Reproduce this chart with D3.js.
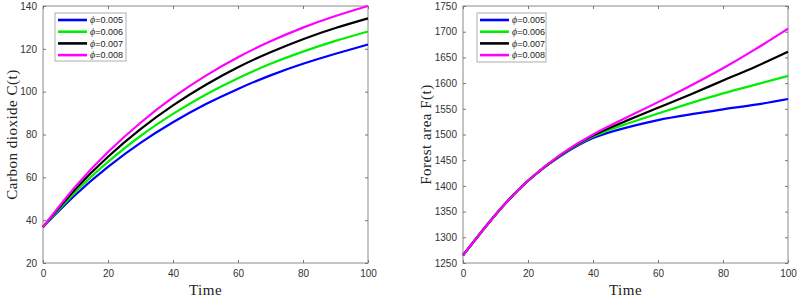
<!DOCTYPE html>
<html>
<head>
<meta charset="utf-8">
<script src="https://cdn.jsdelivr.net/npm/d3@7"></script>
<style>
  body { margin: 0; background: #fff; }
  svg { display: block; }
  .tick text { font-family: "Liberation Sans", Arial, sans-serif; font-size: 10px; fill: #333; }
  .tick line { stroke: #777; }
  .axis-title { font-family: "Liberation Serif", "Times New Roman", serif; font-size: 15px; fill: #222; letter-spacing: 0.5px; }
  .legend-text { font-family: "Liberation Sans", Arial, sans-serif; font-size: 9px; fill: #222; }
</style>
</head>
<body>
<svg id="chart" width="797" height="298"></svg>
<script>
// time grid shared by both panels
const timeSteps = [0, 10, 20, 30, 40, 50, 60, 70, 80, 90, 100];
const phiLabels = ['0.005', '0.006', '0.007', '0.008'];
const lineColors = ['#0000ff', '#00ee00', '#000000', '#ff00ff'];

// Carbon dioxide C(t), one array per phi
const carbon005 = [36.8, 51.9, 64.9, 76.1, 85.7, 94.1, 101.3, 107.6, 113.0, 117.7, 122.0];
const carbon006 = [36.8, 53.2, 67.2, 79.3, 89.6, 98.6, 106.3, 113.0, 118.7, 123.7, 128.1];
const carbon007 = [36.8, 54.5, 69.6, 82.5, 93.6, 103.1, 111.4, 118.4, 124.5, 129.7, 134.2];
const carbon008 = [36.8, 55.7, 71.8, 85.5, 97.3, 107.4, 116.1, 123.5, 129.9, 135.3, 140.0];

// Forest area F(t), one array per phi
const forest005 = [1265, 1344, 1410, 1458, 1493, 1513, 1528, 1539, 1549, 1558, 1569];
const forest006 = [1265, 1344, 1410, 1459, 1496, 1520, 1541, 1561, 1580, 1597, 1614];
const forest007 = [1265, 1344, 1410, 1460, 1498, 1526, 1552, 1578, 1605, 1632, 1661];
const forest008 = [1265, 1344, 1410, 1461, 1500, 1532, 1563, 1595, 1629, 1666, 1706];

const carbonTicks = [20, 40, 60, 80, 100, 120, 140];
const forestTicks = [1250, 1300, 1350, 1400, 1450, 1500, 1550, 1600, 1650, 1700, 1750];
const timeTicks = [0, 20, 40, 60, 80, 100];

const svg = d3.select('#chart');

function drawPanel(opts) {
  const { left, right, top, bottom, yDomain, yTicks, series, yTitle, titleX, legend } = opts;
  const x = d3.scaleLinear().domain([0, 100]).range([left, right]);
  const y = d3.scaleLinear().domain(yDomain).range([bottom, top]);
  const g = svg.append('g');

  // frame
  g.append('rect')
    .attr('x', left).attr('y', top)
    .attr('width', right - left).attr('height', bottom - top)
    .attr('fill', 'none').attr('stroke', '#8a8a8a').attr('stroke-width', 1);

  // axes with inward ticks
  g.append('g').attr('transform', `translate(0,${bottom})`)
    .call(d3.axisBottom(x).tickValues(timeTicks).tickSize(-3).tickPadding(7).tickSizeOuter(0))
    .call(s => s.select('.domain').remove());
  g.append('g').attr('transform', `translate(${left},0)`)
    .call(d3.axisLeft(y).tickValues(yTicks).tickFormat(d3.format('d')).tickSize(-3).tickPadding(6).tickSizeOuter(0))
    .call(s => s.select('.domain').remove());
  g.append('g').attr('transform', `translate(0,${top})`)
    .call(d3.axisTop(x).tickValues(timeTicks).tickSize(-3).tickFormat('').tickSizeOuter(0))
    .call(s => s.select('.domain').remove());
  g.append('g').attr('transform', `translate(${right},0)`)
    .call(d3.axisRight(y).tickValues(yTicks).tickSize(-3).tickFormat('').tickSizeOuter(0))
    .call(s => s.select('.domain').remove());

  // curves
  const line = d3.line()
    .x((d, i) => x(timeSteps[i]))
    .y(d => y(d))
    .curve(d3.curveNatural);
  g.append('g').selectAll('path')
    .data(series)
    .join('path')
    .attr('d', d => line(d))
    .attr('fill', 'none')
    .attr('stroke', (d, i) => lineColors[i])
    .attr('stroke-width', 2.2);

  // titles
  g.append('text').attr('class', 'axis-title')
    .attr('x', (left + right) / 2).attr('y', 295)
    .attr('text-anchor', 'middle').text('Time');
  g.append('text').attr('class', 'axis-title')
    .attr('transform', `translate(${titleX},${(top + bottom) / 2}) rotate(-90)`)
    .attr('text-anchor', 'middle').text(yTitle);

  // legend
  const lg = g.append('g').attr('transform', `translate(${legend.x},${legend.y})`);
  lg.append('rect').attr('width', legend.w).attr('height', legend.h)
    .attr('fill', '#fff').attr('stroke', '#9a9a9a').attr('stroke-width', 0.8);
  phiLabels.forEach((lab, i) => {
    const ry = 7 + i * 11.7;
    lg.append('line')
      .attr('x1', 3).attr('x2', 32).attr('y1', ry).attr('y2', ry)
      .attr('stroke', lineColors[i]).attr('stroke-width', 2.6);
    const t = lg.append('text').attr('class', 'legend-text')
      .attr('x', 35).attr('y', ry + 3.3);
    t.append('tspan').style('font-style', 'italic').style('font-family', '"Liberation Serif", serif').attr('font-size', 10).text('ϕ');
    t.append('tspan').text('=' + lab);
  });
}

drawPanel({
  left: 43, right: 368, top: 6, bottom: 263,
  yDomain: [20, 140], yTicks: carbonTicks,
  series: [carbon005, carbon006, carbon007, carbon008],
  yTitle: 'Carbon dioxide C(t)', titleX: 17,
  legend: { x: 55, y: 13, w: 71, h: 48 }
});

drawPanel({
  left: 463, right: 788, top: 6, bottom: 263,
  yDomain: [1250, 1750], yTicks: forestTicks,
  series: [forest005, forest006, forest007, forest008],
  yTitle: 'Forest area F(t)', titleX: 431,
  legend: { x: 477, y: 13, w: 69, h: 49 }
});
</script>
</body>
</html>
